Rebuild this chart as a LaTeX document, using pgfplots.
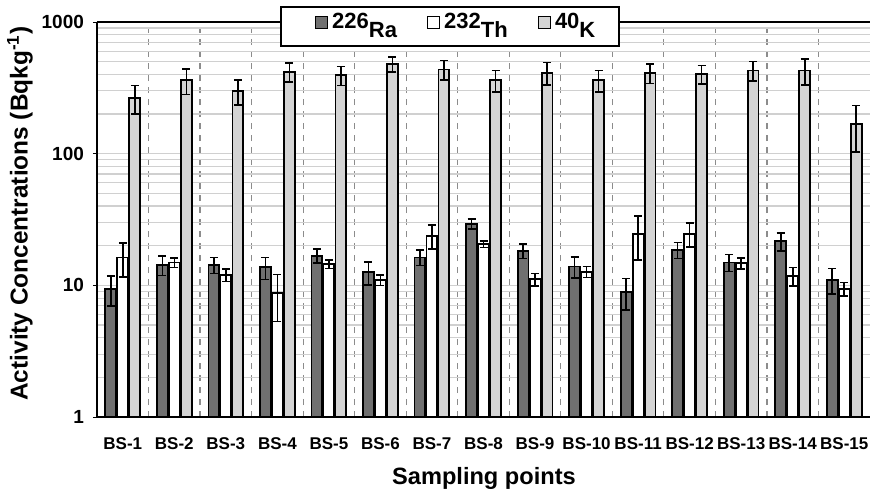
\documentclass[border=0pt]{standalone}
\usepackage{fontspec}
\setmainfont{Liberation Sans}
\usepackage{pgfplots}
\pgfplotsset{compat=1.18}
\usepackage{pgfplotstable}

\definecolor{radark}{RGB}{112,112,112}
\definecolor{klight}{RGB}{212,212,212}
\definecolor{gridc}{RGB}{208,208,208}
\definecolor{sepc}{RGB}{140,140,140}

\pgfplotstableread{
x y e
0 9.4 2.4
1 14.3 2.4
2 14.3 2.0
3 13.7 2.6
4 16.8 2.0
5 12.6 2.5
6 16.3 2.2
7 29.3 2.5
8 18.3 2.3
9 13.9 2.5
10 8.9 2.4
11 18.6 2.6
12 14.9 2.2
13 21.6 3.3
14 11.0 2.4
}\ra

\pgfplotstableread{
x y e
0 16.3 4.7
1 14.9 1.2
2 12.0 1.3
3 8.7 3.4
4 14.5 1.1
5 11.0 1.0
6 23.8 5.0
7 20.6 1.2
8 11.1 1.2
9 12.7 1.2
10 24.6 9.0
11 24.6 5.0
12 14.7 1.4
13 11.8 1.9
14 9.4 1.1
}\th

\pgfplotstableread{
x y e
0 265 65
1 362 80
2 298 64
3 419 70
4 395 65
5 482 63
6 436 75
7 362 67
8 411 80
9 362 67
10 411 69
11 404 64
12 429 71
13 429 95
14 168 65
}\kk

\newcommand{\iso}[2]{\raisebox{4.5pt}{#1}#2}

\begin{document}
\begin{tikzpicture}
\path[use as bounding box] (-48.5pt,-38pt) rectangle (386.5pt,208.5pt);
\begin{axis}[
  at={(0pt,0pt)}, anchor=south west,
  scale only axis, width=386.5pt, height=197.5pt,
  ymode=log, ymin=1, ymax=1000, log origin=infty,
  xmin=-0.5, xmax=14.5,
  ybar=0.6pt, bar width=5.4pt,
  axis x line*=box, axis y line*=left,
  axis line style={-, line width=1.2pt, black},
  xtick={0,...,14},
  xticklabels={BS-1,BS-2,BS-3,BS-4,BS-5,BS-6,BS-7,BS-8,BS-9,BS-10,BS-11,BS-12,BS-13,BS-14,\raisebox{-2.5pt}{BS-15}},
  minor xtick={0.5,1.5,...,13.5},
  x tick style={draw=none},
  xminorgrids,
  minor x grid style={dashed, sepc, line width=0.6pt},
  ytick={1,10,100,1000}, yticklabels={1,10,100,1000},
  y tick style={black, line width=0.5pt},
  tick align=outside, major tick length=2pt, minor tick length=0pt,
  ymajorgrids, yminorgrids,
  major y grid style={gridc, line width=0.6pt},
  minor y grid style={gridc, line width=0.6pt},
  xticklabel style={font=\fontsize{8.5}{10}\selectfont\bfseries, yshift=-5pt},
  yticklabel style={font=\fontsize{9.5}{11}\selectfont\bfseries, xshift=-1pt},
  xlabel={Sampling points},
  ylabel={Activity Concentrations (Bqkg\textsuperscript{-1})},
  every axis x label/.style={at={(axis description cs:0.5006,0)}, yshift=-30.5pt, anchor=center, font=\fontsize{11.8}{13}\selectfont\bfseries},
  every axis y label/.style={at={(axis description cs:0,0.515)}, xshift=-38.5pt, rotate=90, anchor=center, font=\fontsize{12.2}{13}\selectfont\bfseries},
  legend columns=3,
  legend style={at={(axis description cs:0.4567,1.0405)}, anchor=north, draw=black, line width=1pt, fill=white,
    font=\fontsize{11}{12}\selectfont\bfseries, inner xsep=10pt, inner ysep=1.5pt,
    nodes={inner ysep=1.5pt},
    /tikz/every even column/.append style={column sep=13pt}},
]
\addplot[draw=black, line width=0.9pt, fill=radark,
  legend image code/.code={\path (-7pt,0pt); \draw[draw=black, line width=0.6pt, fill=radark] (0pt,-1pt) rectangle (6pt,5pt);},
  error bars/.cd, y dir=both, y explicit,
    error bar style={line width=0.8pt, black},
    error mark options={rotate=90, mark size=2pt, line width=0.8pt, black}]
  table[x=x, y=y, y error=e] {\ra};
\addplot[draw=black, line width=0.9pt, fill=white,
  legend image code/.code={\draw[draw=black, line width=0.6pt, fill=white] (0pt,-1pt) rectangle (6pt,5pt);},
  error bars/.cd, y dir=both, y explicit,
    error bar style={line width=0.8pt, black},
    error mark options={rotate=90, mark size=2pt, line width=0.8pt, black}]
  table[x=x, y=y, y error=e] {\th};
\addplot[draw=black, line width=0.9pt, fill=klight,
  legend image code/.code={\draw[draw=black, line width=0.6pt, fill=klight] (0pt,-1pt) rectangle (6pt,5pt);},
  error bars/.cd, y dir=both, y explicit,
    error bar style={line width=0.8pt, black},
    error mark options={rotate=90, mark size=2pt, line width=0.8pt, black}]
  table[x=x, y=y, y error=e] {\kk};
\legend{\iso{226}{Ra}, \iso{232}{Th}, \iso{40}{K}}
\end{axis}
\end{tikzpicture}
\end{document}
